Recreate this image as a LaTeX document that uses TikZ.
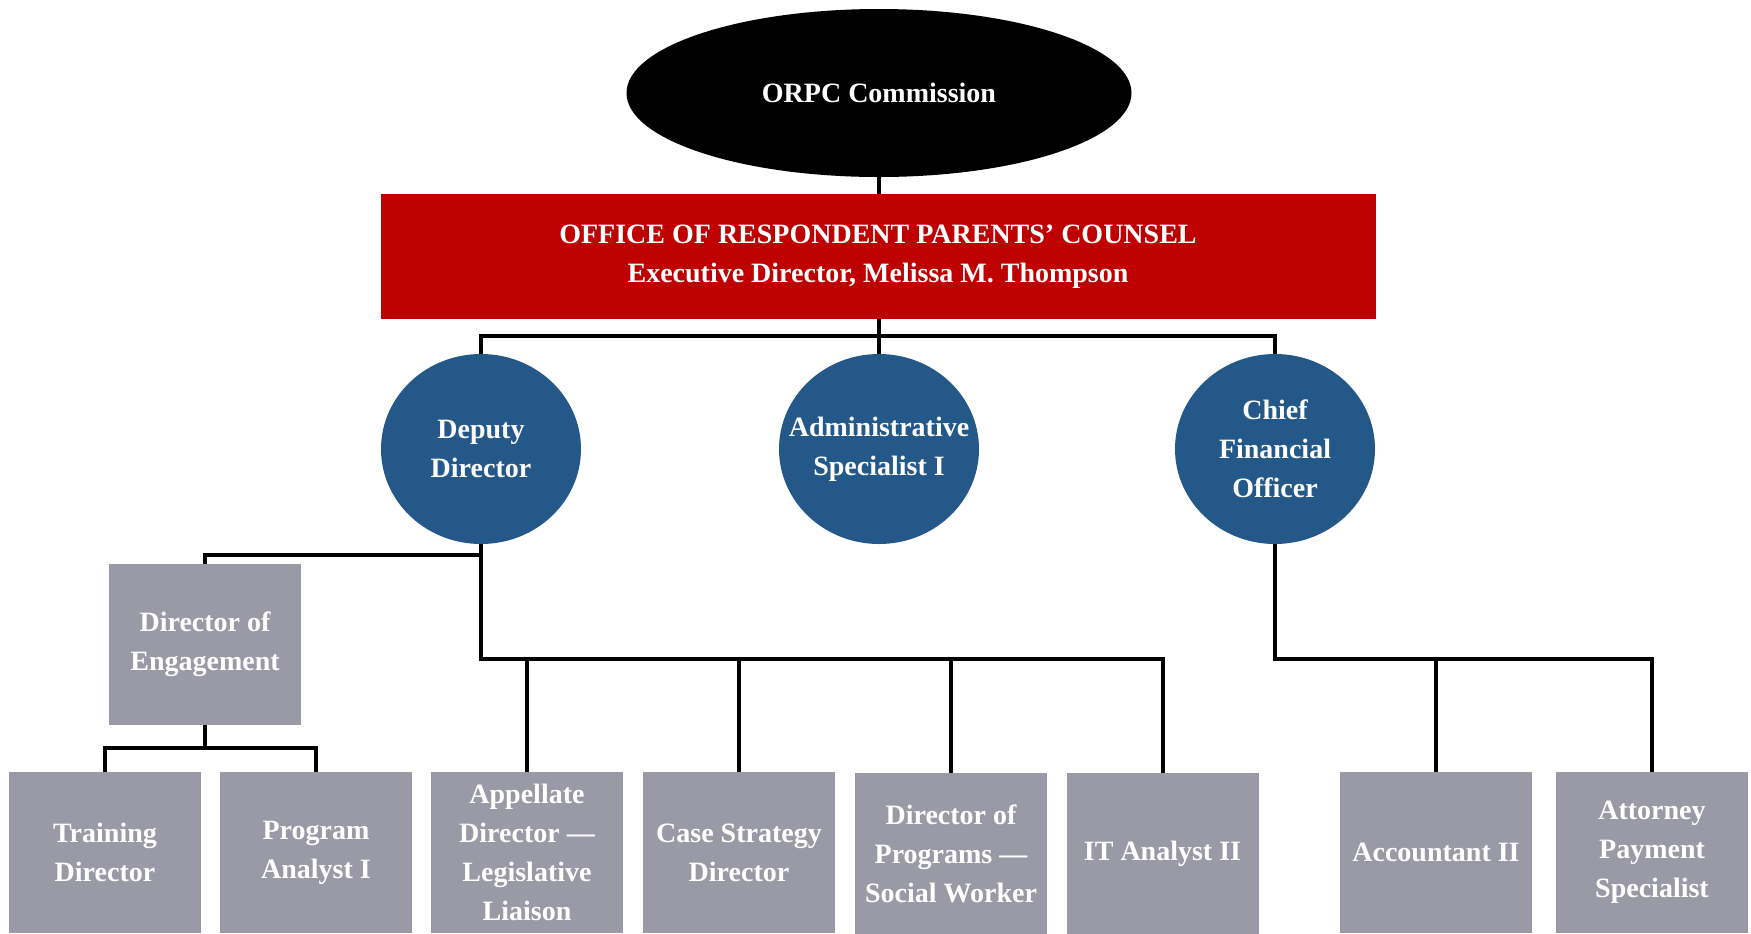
\documentclass[tikz,border=0pt]{standalone}
\usepackage{fontspec}
\setmainfont{Liberation Serif}
\usetikzlibrary{shapes.geometric}
\definecolor{orpcred}{HTML}{BF0000}
\definecolor{orpcblue}{HTML}{245889}
\definecolor{orpcgray}{HTML}{9A9AA6}
\tikzset{
  txt/.style={text=white, align=center, font=\bfseries\fontsize{14}{19.5}\selectfont, inner sep=0pt},
  boss/.style={txt, ellipse, fill=black, minimum width=252.5pt, minimum height=84pt},
  office/.style={txt, rectangle, fill=orpcred, minimum width=497.5pt, minimum height=62.5pt},
  chief/.style={txt, ellipse, fill=orpcblue, inner xsep=-15pt, minimum width=100pt, minimum height=95pt},
  staff/.style={txt, rectangle, fill=orpcgray, minimum width=96pt, minimum height=80.5pt},
  link/.style={draw=black, line width=2pt}
}
\begin{document}
\begin{tikzpicture}[x=0.5pt, y=-0.5pt]
      \useasboundingbox (0,0) rectangle (1751,933);
      % top
      \node[boss] (comm) at (879,93) {ORPC Commission};
      \node[office] (orpc) at (878,256.5) {OFFICE OF RESPONDENT PARENTS’ COUNSEL\\Executive Director, Melissa M. Thompson};
      % second row
      \node[chief] (dep) at (481,449) {Deputy\\Director};
      \node[chief] (adm) at (879,449) {Administrative\\Specialist I};
      \node[chief] (cfo) at (1275,449) {Chief\\Financial\\Officer};
      \node[staff] (doe) at (205,644.5) {Director of\\Engagement};
      % bottom row
      \node[staff] (train) at (105,852.5) {Training\\Director};
      \node[staff] (prog) at (316,852.5) {Program\\Analyst I};
      \node[staff] (app) at (527,852.5) {Appellate\\Director —\\Legislative\\Liaison};
      \node[staff] (case) at (739,852.5) {Case Strategy\\Director};
      \node[staff] (dirp) at (951,853.5) {Director of\\Programs —\\Social Worker};
      \node[staff] (it) at (1162.5,853.5) {IT Analyst II};
      \node[staff] (acct) at (1436,852.5) {Accountant II};
      \node[staff] (att) at (1652,852.5) {Attorney\\Payment\\Specialist};
      % junctions
      \coordinate (obus) at (879,336);
      \coordinate (dj) at (481,555);
      \coordinate (dbus) at (481,659);
      \coordinate (ej) at (205,748);
      \coordinate (cbus) at (1275,659);
      % connectors
      \draw[link] (comm.south) -- (comm.south |- orpc.north)
        (orpc.south -| obus) -- (adm.north)
        (dep.north) |- (obus) -| (cfo.north);
      \draw[link]
        (dep.south) -- (dj) -| (doe.north)
        (dj) -- (dbus) -| (it.north)
        (dbus) -| (app.north) (dbus) -| (case.north) (dbus) -| (dirp.north);
      \draw[link]
        (doe.south) -- (ej) -| (train.north)
        (ej) -| (prog.north);
      \draw[link]
        (cfo.south) -- (cbus) -| (att.north)
        (cbus) -| (acct.north);
    \end{tikzpicture}
\end{document}
